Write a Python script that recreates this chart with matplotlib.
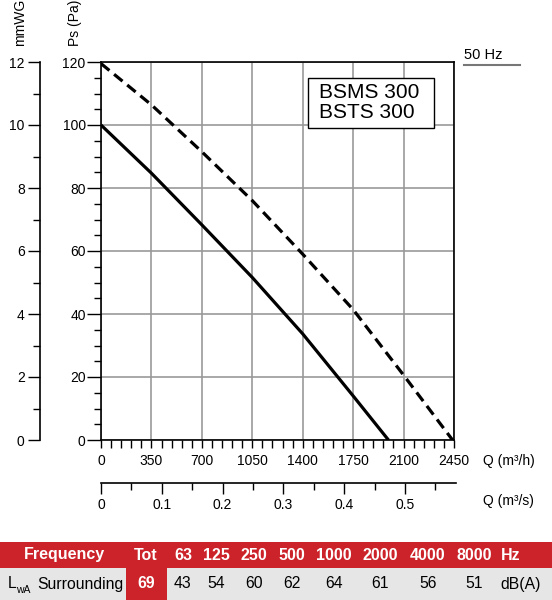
import matplotlib
matplotlib.use('Agg')
import matplotlib.pyplot as plt
from matplotlib.patches import Rectangle
from matplotlib.lines import Line2D
import numpy as np

plt.rcParams['font.family'] = ['Liberation Sans', 'DejaVu Sans']

# curves (Q in m3/h, Ps in Pa)
q_solid = [0, 350, 700, 1050, 1400, 1750, 1995]
ps_solid = [100, 84.7, 68.3, 51.6, 33.7, 14, 0]
q_dash = [0, 350, 700, 1050, 1400, 1750, 2100, 2440]
ps_dash = [119.5, 106.4, 91.5, 76, 59, 41.4, 20.6, 0]

q_ticks = [0, 350, 700, 1050, 1400, 1750, 2100, 2450]
ps_ticks = [0, 20, 40, 60, 80, 100, 120]
mm_ticks = [0, 2, 4, 6, 8, 10, 12]
qs_ticks = [0, 0.1, 0.2, 0.3, 0.4, 0.5]
qs_labels = ['0', '0.1', '0.2', '0.3', '0.4', '0.5']

models = ['BSMS 300', 'BSTS 300']

freq_labels = ['63', '125', '250', '500', '1000', '2000', '4000', '8000']
lwa_values = [43, 54, 60, 62, 64, 61, 56, 51]
lwa_total = 69

W, H = 552, 600
fig = plt.figure(figsize=(W / 100, H / 100), dpi=100)

def fx(x):
    return x / W

def fy(y):
    return 1 - y / H

red = '#cc2229'
grey = '#999999'

# main chart
ax = fig.add_axes([fx(101), fy(440), fx(454 - 101), (440 - 62) / H])
ax.set_xlim(0, 2450)
ax.set_ylim(0, 120)
ax.plot(q_solid, ps_solid, color='black', lw=2.3, solid_capstyle='butt',
        solid_joinstyle='round', zorder=3)
ax.plot(q_dash, ps_dash, color='black', lw=2.3, dashes=(3.4, 1.9),
        dash_capstyle='butt', zorder=3)
ax.set_xticks(q_ticks)
ax.set_xticks(np.arange(0, 2451, 70), minor=True)
ax.set_yticks(ps_ticks)
ax.set_yticks(np.arange(0, 121, 5), minor=True)
ax.grid(True, which='major', color=grey, lw=1.2)
ax.tick_params(axis='x', which='both', direction='out', length=6, width=1,
               labelsize=10, pad=4)
ax.tick_params(axis='y', which='major', direction='out', length=10, width=1,
               labelsize=10, pad=1)
ax.tick_params(axis='y', which='minor', direction='out', length=5, width=1)
for s in ax.spines.values():
    s.set_color('black')
    s.set_linewidth(1.2)
ax.set_axisbelow(True)

# mmWG scale
ax2 = fig.add_axes([fx(40), fy(440), 0.0001, (440 - 62) / H])
ax2.set_ylim(0, 12)
ax2.set_yticks(mm_ticks)
ax2.set_yticks(range(0, 13), minor=True)
ax2.set_xticks([])
for k in ['top', 'right', 'bottom']:
    ax2.spines[k].set_visible(False)
ax2.spines['left'].set_linewidth(1.2)
ax2.patch.set_visible(False)
ax2.tick_params(axis='y', which='major', length=9, width=1, labelsize=10, pad=2)
ax2.tick_params(axis='y', which='minor', length=5, width=1)

# m3/s scale
ax3 = fig.add_axes([fx(101), fy(483), fx(456 - 101), 0.0001])
ax3.set_xlim(0, 0.584)
ax3.set_xticks(qs_ticks)
ax3.set_xticklabels(qs_labels)
ax3.set_xticks(np.arange(0, 0.58, 0.05), minor=True)
ax3.set_yticks([])
for k in ['top', 'right', 'left']:
    ax3.spines[k].set_visible(False)
ax3.spines['bottom'].set_linewidth(1.2)
ax3.patch.set_visible(False)
ax3.tick_params(axis='x', which='major', length=8, width=1, labelsize=10, pad=3)
ax3.tick_params(axis='x', which='minor', length=5, width=1)

# axis titles
fig.text(fx(20), fy(46), 'mmWG', rotation=90, ha='center', va='bottom', fontsize=10)
fig.text(fx(75), fy(46), 'Ps (Pa)', rotation=90, ha='center', va='bottom', fontsize=10)
fig.text(fx(483), fy(461), 'Q (m³/h)', ha='left', va='center', fontsize=10)
fig.text(fx(483), fy(501), 'Q (m³/s)', ha='left', va='center', fontsize=10)

# 50 Hz label
fig.text(fx(464), fy(55), '50 Hz', ha='left', va='center', fontsize=10.5)
fig.add_artist(Line2D([fx(464), fx(520)], [fy(65), fy(65)], color='#777777', lw=1.5))

# model box
fig.add_artist(Rectangle((fx(308), fy(128)), fx(434 - 308), (128 - 78) / H,
                         facecolor='white', edgecolor='black', lw=1, zorder=5))
fig.text(fx(319), fy(92), models[0], ha='left', va='center', fontsize=15, zorder=6)
fig.text(fx(319), fy(113), models[1], ha='left', va='center', fontsize=15, zorder=6)

# sound table
tb = fig.add_axes([0, 0, 1, (600 - 542) / H])
tb.set_xlim(0, W)
tb.set_ylim(600, 542)
tb.axis('off')
tb.add_patch(Rectangle((0, 542), W, 25.5, facecolor=red, edgecolor='none'))
tb.add_patch(Rectangle((0, 567.5), W, 33, facecolor='#e6e6e6', edgecolor='none'))
tb.add_patch(Rectangle((125.5, 567), 41.5, 33, facecolor=red, edgecolor='none'))

col_x = [183, 216, 254, 292, 334, 380, 428, 474]
hy, ry = 555, 584
hfs, rfs = 11.5, 11.3
tb.text(64, hy, 'Frequency', color='white', fontweight='bold', fontsize=hfs,
        ha='center', va='center')
tb.text(146, hy, 'Tot', color='white', fontweight='bold', fontsize=hfs,
        ha='center', va='center')
for x, f in zip(col_x, freq_labels):
    tb.text(x, hy, f, color='white', fontweight='bold', fontsize=hfs,
            ha='center', va='center')
tb.text(511, hy, 'Hz', color='white', fontweight='bold', fontsize=hfs,
        ha='center', va='center')

tb.text(8, ry, 'L', fontsize=rfs, ha='left', va='center')
tb.text(16, ry + 6, 'wA', fontsize=7.5, ha='left', va='center')
tb.text(37, ry, 'Surrounding', fontsize=rfs, ha='left', va='center')
tb.text(146, ry, str(lwa_total), color='white', fontweight='bold', fontsize=rfs,
        ha='center', va='center')
for x, v in zip(col_x, lwa_values):
    tb.text(x, ry, str(v), fontsize=rfs, ha='center', va='center')
tb.text(521, ry, 'dB(A)', fontsize=rfs, ha='center', va='center')

fig.savefig('out.png', dpi=100)
